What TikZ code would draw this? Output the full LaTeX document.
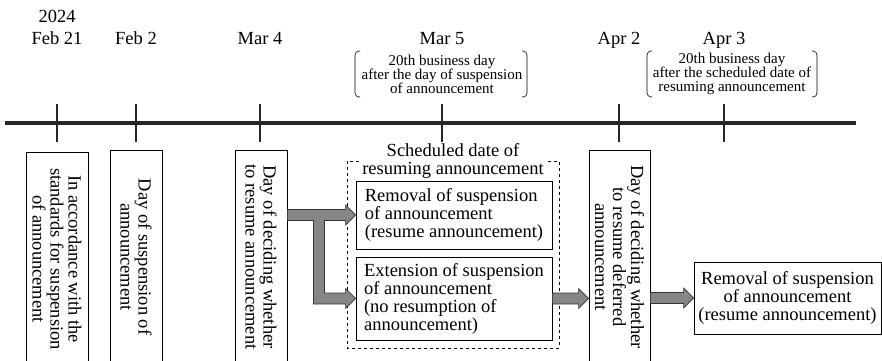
\documentclass[tikz,border=0pt]{standalone}
\usepackage{fontspec}
\setmainfont{Liberation Serif}
\usetikzlibrary{positioning,calc}
\def\shaft{5.5pt} % half width of the arrow shaft
\def\headwd{10pt} % half width of the arrow head
\def\headlen{10pt} % length of the arrow head
\newcommand\fatarrow[2]{%
  \path[fat arrow] let \p1=(#1), \p2=(#2) in
    (\x1,\y1+\shaft) -- (\x2-\headlen,\y1+\shaft) -- (\x2-\headlen,\y1+\headwd)
    -- (\x2,\y1) -- (\x2-\headlen,\y1-\headwd) -- (\x2-\headlen,\y1-\shaft)
    -- (\x1,\y1-\shaft) -- cycle;
}
\newcommand\bracketpair[4]{% left, right, top, bottom
  \draw[bracket] (#1+5,#3) -- (#1,#3) -- (#1,#4) -- (#1+5,#4);
  \draw[bracket] (#2-5,#3) -- (#2,#3) -- (#2,#4) -- (#2-5,#4);
}
\tikzset{%
  >=latex,
  big text/.style={font=\fontsize{18.5}{18}\selectfont},
  date/.style={big text, anchor=base, inner sep=0pt},
  note/.style={font=\fontsize{15}{14}\selectfont, align=center, inner sep=0pt},
  timeline/.style={line width=3.5pt, black!85},
  tick/.style={line width=1.3pt, black!85},
  bracket/.style={line width=0.6pt, rounded corners=4pt},
  daybox/.style={big text, draw, line width=0.8pt, rotate=-90, align=center,
    minimum width=214pt, minimum height=#1, inner sep=0pt},
  planbox/.style={big text, draw, line width=0.8pt, inner sep=0pt,
    minimum width=#1},
  fat arrow/.style={fill=gray!95, draw=black!80, line width=0.6pt}
}

\begin{document}
\begin{tikzpicture}[x=1pt,y=-1pt]
	%% frame of the picture
	\useasboundingbox (0,0) rectangle (882,360);
	\clip (0,0) rectangle (882,360);
	
	%% time line with dates
	\draw[timeline] (5,123) coordinate (start) -- (856,123) coordinate (end);
	\foreach \x/\d in {57/Feb 21, 136/Feb 2, 260/Mar 4, 442/Mar 5, 619/Apr 2, 724/Apr 3}{
		\draw[tick] (\x,104) -- (\x,142);
		\node[date] (date\x) at (\x,44) {\d};
	}
	\node[date] (year) at (57,22) {2024};
	
	%% notes in brackets
	\bracketpair{355}{527}{51}{97}
	\node[note] (mar5note) at (442,74) {20th business day\\after the day of suspension\\of announcement};
	\bracketpair{647}{817}{51}{97}
	\node[note] (apr3note) at (732,74) {20th business day\\after the scheduled date of\\resuming announcement};
	
	%% days (boxes run off the bottom edge)
	\node[daybox=62pt] (feb21box) at (57,259) {In accordance with the\\standards for suspension\\of announcement};
	\node[daybox=52pt] (feb2box) at (136,257) {Day of suspension of\\announcement};
	\node[daybox=52pt] (mar4box) at (261,257) {Day of deciding whether\\to resume announcement};
	\node[daybox=61pt] (apr2box) at (619.5,257) {Day of deciding whether\\to resume deferred\\announcement};
	
	%% scheduled date of resuming
	\draw[dashed, line width=0.6pt] (347,161) rectangle (559,348);
	\node[big text, align=center, fill=white, inner sep=1pt] (scheduled) at (453,161) {Scheduled date of\\resuming announcement};
	\node[planbox=196pt, align=left, minimum height=68pt] (removal) at (454,215) {Removal of suspension\\of announcement\\(resume announcement)};
	\node[planbox=196pt, align=left, minimum height=83pt] (extension) at (454,298.5) {Extension of suspension\\of announcement\\(no resumption of\\announcement)};
	\node[planbox=187pt, align=center, minimum height=72pt] (finalremoval) at (787.5,298) {Removal of suspension\\of announcement\\(resume announcement)};
	
	%% arrows
	\coordinate (split) at (319,0);
	\path[fat arrow] let \p1=(mar4box.north |- removal.west), \p2=(removal.west),
		\p3=(extension.west), \p4=(split) in
		(\x1,\y1+\shaft) -- (\x2-\headlen,\y1+\shaft) -- (\x2-\headlen,\y1+\headwd)
		-- (\x2,\y1) -- (\x2-\headlen,\y1-\headwd) -- (\x2-\headlen,\y1-\shaft)
		-- (\x4+\shaft,\y1-\shaft) -- (\x4+\shaft,\y3+\shaft)
		-- (\x3-\headlen,\y3+\shaft) -- (\x3-\headlen,\y3+\headwd)
		-- (\x3,\y3) -- (\x3-\headlen,\y3-\headwd) -- (\x3-\headlen,\y3-\shaft)
		-- (\x4-\shaft,\y3-\shaft) -- (\x4-\shaft,\y1-\shaft)
		-- (\x1,\y1-\shaft) -- cycle;
	\fatarrow{extension.east}{apr2box.south |- extension.east}
	\fatarrow{apr2box.north |- finalremoval.west}{finalremoval.west}
	
\end{tikzpicture}
\end{document}
